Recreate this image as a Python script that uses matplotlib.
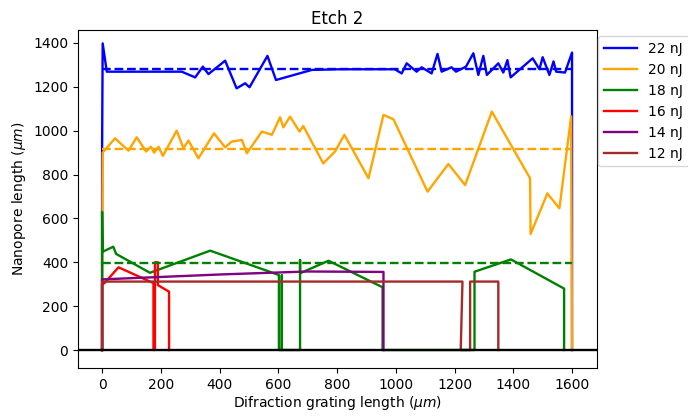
import matplotlib
matplotlib.use('Agg')
import matplotlib.pyplot as plt

# Etch 2 profiles
x_22 = [0, 0, 2, 16, 271, 317, 343, 362, 419, 458, 487, 502, 563, 592, 714, 810,
        997, 1020, 1037, 1071, 1088, 1122, 1142, 1156, 1190, 1205, 1239, 1264,
        1281, 1298, 1310, 1349, 1366, 1380, 1391, 1466, 1489, 1500, 1523, 1537,
        1546, 1576, 1600, 1600]
y_22 = [0, 900, 1398, 1269, 1269, 1243, 1292, 1258, 1319, 1193, 1216, 1198,
        1341, 1231, 1277, 1280, 1280, 1261, 1307, 1269, 1289, 1261, 1350, 1269,
        1289, 1269, 1292, 1353, 1254, 1341, 1254, 1307, 1265, 1322, 1243, 1330,
        1280, 1335, 1254, 1316, 1269, 1265, 1356, 0]

x_20 = [0, 2, 44, 90, 118, 150, 166, 177, 192, 207, 254, 277, 294, 328, 381,
        419, 441, 476, 493, 544, 578, 606, 617, 640, 672, 685, 753, 793, 825,
        907, 958, 992, 1108, 1179, 1236, 1327, 1457, 1459, 1516, 1557, 1597, 1600]
y_20 = [0, 900, 965, 909, 970, 905, 927, 900, 927, 885, 1000, 920, 955, 874,
        988, 924, 950, 958, 897, 996, 981, 1061, 1015, 1064, 996, 1021, 851, 905,
        981, 783, 1072, 1052, 722, 848, 752, 1087, 783, 529, 714, 646, 1065, 0]

x_18 = [0, 0, 2, 38, 48, 163, 368, 602, 602, 612, 612, 612, 674, 674, 674, 771,
        955, 955, 1268, 1268, 1392, 1573, 1573]
y_18 = [0, 630, 448, 471, 438, 352, 453, 342, 0, 0, 340, 0, 0, 410, 350, 407,
        286, 0, 0, 357, 413, 280, 0]

x_16 = [0, 0, 8, 56, 175, 175, 180, 180, 190, 190, 228, 228]
y_16 = [0, 300, 305, 377, 305, 0, 0, 400, 400, 296, 266, 0]

x_14 = [0, 0, 413, 700, 958, 958]
y_14 = [0, 322, 345, 358, 356, 0]

x_12 = [0, 0, 1227, 1221, 1253, 1253, 1349, 1349]
y_12 = [0, 312, 312, 0, 0, 312, 312, 0]

labels = ["22 nJ", "20 nJ", "18 nJ", "16 nJ", "14 nJ", "12 nJ"]
colors = ["blue", "orange", "green", "red", "purple", "brown"]

# mean levels (dashed)
mean_22 = 1282
mean_20 = 915
mean_18 = 397

fig = plt.figure(figsize=(6.88, 4.18), dpi=100)
ax = fig.add_axes([78 / 688., 1 - 368 / 418., (597 - 78) / 688., (368 - 30) / 418.])

series = [(x_22, y_22), (x_20, y_20), (x_18, y_18),
          (x_16, y_16), (x_14, y_14), (x_12, y_12)]
for (xs, ys), lab, col in zip(series, labels, colors):
    ax.plot(xs, ys, "-", color=col, lw=1.7, label=lab)

for m, col in zip([mean_22, mean_20, mean_18], colors[:3]):
    ax.plot([0, 1600], [m, m], "--", color=col, lw=1.7)

ax.axhline(0, color="black", lw=1.7)

ax.set_xlim(-82, 1685)
ax.set_ylim(-82, 1459)
ax.set_xticks(range(0, 1601, 200))
ax.set_yticks(range(0, 1401, 200))
ax.set_xlabel(r"Difraction grating length ($\mu m$)", labelpad=2)
ax.set_ylabel(r"Nanopore length ($\mu m$)")
ax.set_title("Etch 2", pad=4)
ax.legend(loc="upper left", bbox_to_anchor=(1.0, 0.985), borderaxespad=0.1,
          handlelength=2.4)

fig.savefig("out.png", dpi=100)
